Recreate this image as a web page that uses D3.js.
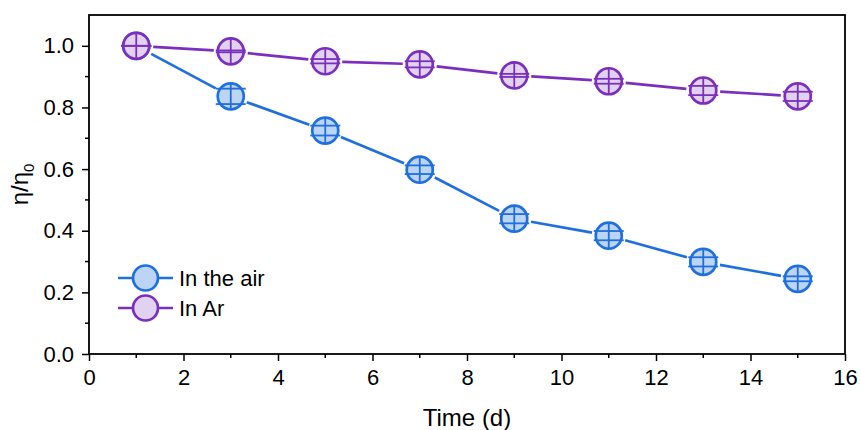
<!DOCTYPE html>
<html>
<head>
<meta charset="utf-8" />
<title>η/η0 vs time</title>
<script src="https://d3js.org/d3.v7.min.js"></script>
<style>
  body { margin: 0; background: #fff; }
  text { font-family: "Liberation Sans", Arial, sans-serif; }
</style>
</head>
<body>
<div id="chart"></div>
<script>
// data
var days = [1, 3, 5, 7, 9, 11, 13, 15];
var airValues = [1.0, 0.836, 0.725, 0.598, 0.439, 0.384, 0.299, 0.244];
var airErrors = [0, 0.025, 0.016, 0.014, 0.015, 0.015, 0.015, 0.008];
var arValues = [1.0, 0.982, 0.950, 0.940, 0.904, 0.885, 0.855, 0.836];
var arErrors = [0, 0.003, 0.007, 0.010, 0.005, 0.008, 0.015, 0.015];
var seriesNames = ["In the air", "In Ar"];
var xTicks = [0, 2, 4, 6, 8, 10, 12, 14, 16];
var yTicks = [0.0, 0.2, 0.4, 0.6, 0.8, 1.0];

var width = 861, height = 430;
var margin = {left: 89, right: 16, top: 15, bottom: 76};

var svg = d3.select("#chart").append("svg")
  .attr("width", width).attr("height", height);

var x = d3.scaleLinear().domain([0, 16]).range([margin.left, width - margin.right]);
var y = d3.scaleLinear().domain([0, 1.1]).range([height - margin.bottom, margin.top]);

var series = [
  {name: seriesNames[0], vals: airValues, errs: airErrors, stroke: "#1f6fdf", fill: "#bcd5f4"},
  {name: seriesNames[1], vals: arValues, errs: arErrors, stroke: "#7b2fbd", fill: "#e2d2f1"}
];

var r = 13, gap = 4;

// axes
var xAxis = d3.axisBottom(x).tickValues(xTicks).tickSize(7).tickPadding(8).tickFormat(d3.format("d"));
var yAxis = d3.axisLeft(y).tickValues(yTicks).tickSize(7).tickPadding(8).tickFormat(d3.format(".1f"));

var gx = svg.append("g").attr("transform", "translate(0," + y(0) + ")").call(xAxis);
var gy = svg.append("g").attr("transform", "translate(" + x(0) + ",0)").call(yAxis);

// minor ticks
gx.selectAll(".minor").data(d3.range(1, 16, 2)).enter().append("line")
  .attr("x1", d => x(d)).attr("x2", d => x(d)).attr("y1", 0).attr("y2", 4)
  .attr("stroke", "#000").attr("stroke-width", 1.5);
gy.selectAll(".minor").data([0.1, 0.3, 0.5, 0.7, 0.9]).enter().append("line")
  .attr("y1", d => y(d)).attr("y2", d => y(d)).attr("x1", 0).attr("x2", -4)
  .attr("stroke", "#000").attr("stroke-width", 1.5);

[gx, gy].forEach(function(g) {
  g.attr("font-size", 22).attr("font-family", "'Liberation Sans', Arial, sans-serif");
  g.select(".domain").remove();
  g.selectAll(".tick line").attr("stroke", "#000").attr("stroke-width", 1.5);
  g.selectAll(".tick text").attr("fill", "#000");
});

// frame
svg.append("rect")
  .attr("x", x(0)).attr("y", y(1.1))
  .attr("width", x(16) - x(0)).attr("height", y(0) - y(1.1))
  .attr("fill", "none").attr("stroke", "#000").attr("stroke-width", 1.8);

// axis titles
svg.append("text").attr("x", (x(0) + x(16)) / 2).attr("y", 426)
  .attr("text-anchor", "middle").attr("font-size", 24).text("Time (d)");

var yt = svg.append("text")
  .attr("transform", "translate(28," + y(0.55) + ") rotate(-90)")
  .attr("text-anchor", "middle").attr("font-size", 24);
yt.append("tspan").text("η/η");
yt.append("tspan").attr("font-size", 15).attr("dy", 6).text("0");

// connecting lines with gaps around markers
series.forEach(function(s) {
  var g = svg.append("g");
  for (var i = 0; i < days.length - 1; i++) {
    var x1 = x(days[i]), y1 = y(s.vals[i]), x2 = x(days[i + 1]), y2 = y(s.vals[i + 1]);
    var len = Math.hypot(x2 - x1, y2 - y1), ux = (x2 - x1) / len, uy = (y2 - y1) / len;
    var off = r + gap;
    g.append("line")
      .attr("x1", x1 + ux * off).attr("y1", y1 + uy * off)
      .attr("x2", x2 - ux * off).attr("y2", y2 - uy * off)
      .attr("stroke", s.stroke).attr("stroke-width", 2.7);
  }
});

// markers with error bars
series.forEach(function(s) {
  var pts = svg.append("g").selectAll("g").data(days).enter().append("g")
    .attr("transform", (d, i) => "translate(" + x(d) + "," + y(s.vals[i]) + ")");
  pts.append("circle").attr("r", r)
    .attr("fill", s.fill).attr("stroke", s.stroke).attr("stroke-width", 2.7);
  pts.append("line")
    .attr("x1", 0).attr("x2", 0).attr("y1", -r).attr("y2", r)
    .attr("stroke", s.stroke).attr("stroke-width", 1.8);
  pts.each(function(d, i) {
    var e = y(0) - y(s.errs[i]);
    var g = d3.select(this);
    [-e, e].forEach(function(dy) {
      g.append("line").attr("x1", -15).attr("x2", 15).attr("y1", dy).attr("y2", dy)
        .attr("stroke", s.stroke).attr("stroke-width", 1.8);
    });
  });
});

// legend
var leg = svg.append("g").selectAll("g").data(series).enter().append("g")
  .attr("transform", (d, i) => "translate(118," + (278 + i * 30) + ")");
leg.append("line").attr("x1", 0).attr("x2", 55).attr("y1", 0).attr("y2", 0)
  .attr("stroke", d => d.stroke).attr("stroke-width", 2.7);
leg.append("circle").attr("cx", 27.5).attr("r", 12.5)
  .attr("fill", d => d.fill).attr("stroke", d => d.stroke).attr("stroke-width", 2.7);
leg.append("text").attr("x", 61).attr("y", 8).attr("font-size", 22).text(d => d.name);
</script>
</body>
</html>
